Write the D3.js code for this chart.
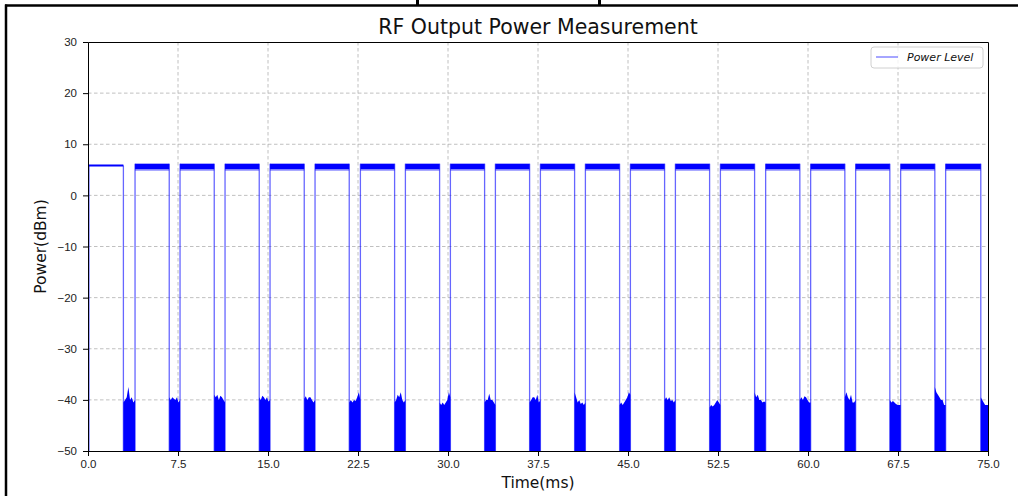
<!DOCTYPE html>
<html lang="en">
<head>
  <meta charset="UTF-8">
  <title>RF Output Power Measurement</title>
  <script src="https://d3js.org/d3.v7.min.js"></script>
  <style>
    body { margin: 0; background: #fff; }
    svg { display: block; font-family: "DejaVu Sans", sans-serif; }
    .axis text { font-size: 11.5px; fill: #222; }
    .axis path, .axis line { stroke: #000; }
    .grid line { stroke: #b0b0b0; stroke-dasharray: 3.5,2.5; stroke-width: 0.8; }
  </style>
</head>
<body>
  <div id="chart"></div>

  <script>
    // tick labels
    const xTicks = [0, 7.5, 15, 22.5, 30, 37.5, 45, 52.5, 60, 67.5, 75];
    const yTicks = [-50, -40, -30, -20, -10, 0, 10, 20, 30];

    // first (continuous) transmit segment, ms, and its level in dBm
    const firstOn = [0.08, 2.95];
    const firstLevel = 5.85;

    // burst start / end times (ms)
    const pulseStart = [3.92, 7.67, 11.42, 15.17, 18.92, 22.7, 26.45, 30.2, 33.95, 37.7,
                        41.45, 45.2, 48.95, 52.7, 56.47, 60.22, 63.97, 67.72, 71.47];
    const pulseEnd = [6.77, 10.52, 14.27, 18.02, 21.77, 25.55, 29.3, 33.05, 36.8, 40.55,
                      44.3, 48.05, 51.8, 55.55, 59.32, 63.07, 66.82, 70.57, 74.4];

    // on-level band during bursts (dBm)
    const bandTop = 6.2;
    const bandSolid = 5.1;
    const bandLow = 4.8;

    // top of the noise floor in each off gap (dBm), left to right
    const startNoise = [-39.5, -41];
    const gapNoise = [
      [-40.5, -40, -39.5, -37.5, -40, -39.5, -40.5, -40],
      [-39.5, -40, -39.5, -39.8, -40, -39.5, -40.5, -40],
      [-39, -39.5, -39, -40, -39.2, -39.5, -40, -40.5],
      [-39.5, -40, -39.2, -39.5, -40, -39.5, -40.3, -40],
      [-39.8, -39.3, -40, -39.5, -39.5, -40, -40.5, -40],
      [-40.5, -40, -40.5, -40, -40.2, -39.5, -38.5, -40],
      [-40.5, -40, -39, -39.5, -38.5, -40, -40.5, -40],
      [-40.5, -41, -40.5, -41, -40.5, -40, -38.5, -39.5],
      [-40.5, -40, -40, -38.8, -40, -40, -40.5, -41],
      [-40.5, -40, -39.5, -39.5, -40, -39, -40.5, -40],
      [-38.5, -39.5, -40.5, -40, -40.8, -40.5, -41, -40.5],
      [-41, -40.5, -41, -40.5, -40, -39.5, -38.5, -39],
      [-40, -39.5, -40, -39.5, -40.2, -40, -40.5, -40],
      [-41.5, -41, -41.3, -41, -40.5, -40, -40.5, -41],
      [-38.5, -39.5, -39, -40, -40, -40.5, -40.3, -40.5],
      [-40, -39.5, -40, -39.3, -39.5, -40, -40.5, -40.5],
      [-39.5, -38.5, -39.5, -40, -39, -40.5, -40.5, -40],
      [-40, -40.5, -40.2, -40.5, -40.8, -41, -41, -41],
      [-37.5, -38.5, -39, -39.5, -40, -40, -41, -41],
      [-39.5, -40, -40.5, -41, -41, -41]
    ];

    const W = 1021, H = 496;
    const margin = { top: 42, right: 33, bottom: 45, left: 88 },
          width = W - margin.left - margin.right,
          height = H - margin.top - margin.bottom;

    const root = d3.select("#chart")
      .append("svg")
      .attr("width", W)
      .attr("height", H);

    // page frame around the figure
    root.append("line").attr("x1", 5).attr("x2", 1018).attr("y1", 5.5).attr("y2", 5.5)
      .attr("stroke", "#000").attr("stroke-width", 2.5);
    root.append("line").attr("x1", 6).attr("x2", 6).attr("y1", 4.5).attr("y2", H)
      .attr("stroke", "#000").attr("stroke-width", 2.5);
    root.append("rect").attr("x", 416).attr("y", 0).attr("width", 3).attr("height", 6).attr("fill", "#000");
    root.append("rect").attr("x", 598).attr("y", 0).attr("width", 3).attr("height", 6).attr("fill", "#000");

    const svg = root.append("g")
      .attr("transform", `translate(${margin.left},${margin.top})`);

    const x = d3.scaleLinear().domain([0, 75]).range([0, width]);
    const y = d3.scaleLinear().domain([-50, 30]).range([height, 0]);

    svg.append("defs").append("clipPath").attr("id", "plot")
      .append("rect").attr("width", width).attr("height", height);

    // grid
    svg.append("g").attr("class", "grid")
      .selectAll("line").data(xTicks.slice(1, -1)).enter().append("line")
      .attr("x1", d => x(d)).attr("x2", d => x(d))
      .attr("y1", 0).attr("y2", height);
    svg.append("g").attr("class", "grid")
      .selectAll("line").data(yTicks.slice(1, -1)).enter().append("line")
      .attr("y1", d => y(d)).attr("y2", d => y(d))
      .attr("x1", 0).attr("x2", width);

    const plot = svg.append("g").attr("clip-path", "url(#plot)");
    const blue = "#0000ff";

    // noise floor in the gaps
    const gaps = [];
    gaps.push({ t0: 0, t1: firstOn[0], v: startNoise });
    pulseStart.forEach((s, i) => {
      const t0 = i === 0 ? firstOn[1] : pulseEnd[i - 1];
      gaps.push({ t0: t0, t1: s, v: gapNoise[i] });
    });
    gaps.push({ t0: pulseEnd[pulseEnd.length - 1], t1: 75, v: gapNoise[gapNoise.length - 1] });

    const area = d3.area()
      .x(d => x(d[0]))
      .y0(y(-52))
      .y1(d => y(d[1]));

    gaps.forEach(g => {
      const n = g.v.length;
      const pts = g.v.map((v, j) => [g.t0 + (g.t1 - g.t0) * j / (n - 1), v]);
      plot.append("path").attr("d", area(pts)).attr("fill", blue);
    });

    // first continuous segment
    plot.append("line")
      .attr("x1", x(firstOn[0])).attr("x2", x(firstOn[1]))
      .attr("y1", y(firstLevel)).attr("y2", y(firstLevel))
      .attr("stroke", blue).attr("stroke-width", 2);

    // bursts
    plot.selectAll(".band").data(pulseStart).enter().append("rect")
      .attr("x", (d, i) => x(d)).attr("width", (d, i) => x(pulseEnd[i]) - x(d))
      .attr("y", y(bandTop)).attr("height", y(bandSolid) - y(bandTop))
      .attr("fill", blue);
    plot.selectAll(".bandLow").data(pulseStart).enter().append("rect")
      .attr("x", (d, i) => x(d)).attr("width", (d, i) => x(pulseEnd[i]) - x(d))
      .attr("y", y(bandSolid)).attr("height", y(bandLow) - y(bandSolid))
      .attr("fill", blue).attr("opacity", 0.4);

    // rising / falling edges
    const edges = [[firstOn[0], firstLevel], [firstOn[1], firstLevel]]
      .concat(pulseStart.map(d => [d, bandTop]))
      .concat(pulseEnd.map(d => [d, bandTop]));
    plot.selectAll(".edge").data(edges).enter().append("line")
      .attr("x1", d => x(d[0])).attr("x2", d => x(d[0]))
      .attr("y1", d => y(d[1])).attr("y2", y(-50))
      .attr("stroke", blue).attr("stroke-width", 1.3).attr("stroke-opacity", 0.6);

    // axes
    svg.append("g").attr("class", "axis")
      .attr("transform", `translate(0,${height})`)
      .call(d3.axisBottom(x).tickValues(xTicks).tickFormat(d3.format(".1f")).tickSize(5).tickPadding(4));
    svg.append("g").attr("class", "axis")
      .call(d3.axisLeft(y).tickValues(yTicks).tickSize(5).tickPadding(6));
    svg.append("g").attr("class", "axis")
      .attr("transform", `translate(${width},0)`)
      .call(d3.axisRight(y).tickValues([]).tickSizeOuter(0));
    svg.append("g").attr("class", "axis")
      .call(d3.axisTop(x).tickValues([]).tickSizeOuter(0));

    // title & labels
    svg.append("text").attr("x", width / 2).attr("y", -8)
      .attr("text-anchor", "middle").attr("font-size", 20.5).attr("fill", "#111")
      .text("RF Output Power Measurement");
    svg.append("text").attr("x", width / 2).attr("y", height + 37)
      .attr("text-anchor", "middle").attr("font-size", 15.5).attr("fill", "#111")
      .text("Time(ms)");
    svg.append("text")
      .attr("transform", `translate(${-42},${height / 2}) rotate(-90)`)
      .attr("text-anchor", "middle").attr("font-size", 15.5).attr("fill", "#111")
      .text("Power(dBm)");

    // legend
    const lg = svg.append("g").attr("transform", `translate(${width - 117},5)`);
    lg.append("rect").attr("width", 112).attr("height", 21).attr("rx", 3)
      .attr("fill", "#fff").attr("fill-opacity", 0.8).attr("stroke", "#d0d0d0");
    lg.append("line").attr("x1", 5).attr("x2", 27).attr("y1", 10).attr("y2", 10)
      .attr("stroke", blue).attr("stroke-opacity", 0.7).attr("stroke-width", 1);
    lg.append("text").attr("x", 36).attr("y", 14).attr("font-size", 11)
      .attr("font-style", "italic").attr("fill", "#111").text("Power Level");
  </script>
</body>
</html>
